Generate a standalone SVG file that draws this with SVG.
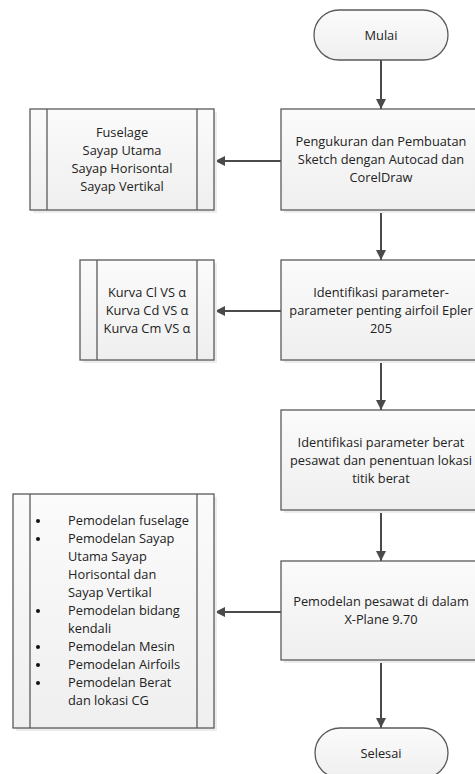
<svg xmlns="http://www.w3.org/2000/svg" width="475" height="774" viewBox="0 0 475 774">
<defs>
<linearGradient id="g" x1="0" y1="0" x2="0" y2="1"><stop offset="0" stop-color="#fbfbfb"/><stop offset="1" stop-color="#efefef"/></linearGradient>
<marker id="ah" markerWidth="10" markerHeight="10" viewBox="0 0 10 10" refX="10" refY="5" orient="auto" markerUnits="userSpaceOnUse"><path d="M0,0 L10,5 L0,10 Z" fill="#4a4a4a"/></marker>
</defs>
<style>
.box{fill:url(#g);stroke:#5a5a5a;stroke-width:1.3}
.sh{fill:#ececec}
.ln{stroke:#5a5a5a;stroke-width:1.3;fill:none}
.c{stroke:#4a4a4a;stroke-width:2;fill:none;marker-end:url(#ah)}
text{font-family:"Open Sans","Liberation Sans",sans-serif;font-size:12.8px;fill:#222}
.m{text-anchor:middle}
</style>
<rect width="475" height="774" fill="#fff"/>
<g id="connectors">
<line class="c" x1="381" y1="60" x2="381" y2="109"/>
<line class="c" x1="281" y1="161" x2="215" y2="161"/>
<line class="c" x1="381" y1="210" x2="381" y2="260"/>
<line class="c" x1="281" y1="311" x2="215" y2="311"/>
<line class="c" x1="381" y1="360" x2="381" y2="410"/>
<line class="c" x1="381" y1="510" x2="381" y2="561"/>
<line class="c" x1="281" y1="612" x2="215" y2="612"/>
<line class="c" x1="381" y1="660" x2="381" y2="728"/>
</g>
<g id="start">
<rect class="box" x="314" y="10" width="134" height="50" rx="25"/>
<text class="m" x="381" y="40">Mulai</text>
</g>
<g id="step1">
<rect class="sh" x="284" y="112" width="200" height="101"/>
<rect class="box" x="281" y="109" width="200" height="101"/>
<text class="m" x="381" y="146">Pengukuran dan Pembuatan</text>
<text class="m" x="381" y="164">Sketch dengan Autocad dan</text>
<text class="m" x="381" y="182">CorelDraw</text>
</g>
<g id="sub1">
<rect class="sh" x="33" y="112" width="184" height="101"/>
<rect class="box" x="30" y="109" width="184" height="101"/>
<line class="ln" x1="47" y1="109" x2="47" y2="210"/>
<line class="ln" x1="197" y1="109" x2="197" y2="210"/>
<text class="m" x="122" y="137">Fuselage</text>
<text class="m" x="122" y="155">Sayap Utama</text>
<text class="m" x="122" y="173">Sayap Horisontal</text>
<text class="m" x="122" y="191">Sayap Vertikal</text>
</g>
<g id="step2">
<rect class="sh" x="284" y="263" width="200" height="100"/>
<rect class="box" x="281" y="260" width="200" height="100"/>
<text class="m" x="381" y="297">Identifikasi parameter-</text>
<text class="m" x="381" y="315">parameter penting airfoil Epler</text>
<text class="m" x="381" y="333">205</text>
</g>
<g id="sub2">
<rect class="sh" x="83" y="263" width="134" height="100"/>
<rect class="box" x="80" y="260" width="134" height="100"/>
<line class="ln" x1="97" y1="260" x2="97" y2="360"/>
<line class="ln" x1="197" y1="260" x2="197" y2="360"/>
<text class="m" x="147" y="297">Kurva Cl VS α</text>
<text class="m" x="147" y="315">Kurva Cd VS α</text>
<text class="m" x="147" y="333">Kurva Cm VS α</text>
</g>
<g id="step3">
<rect class="sh" x="284" y="413" width="200" height="100"/>
<rect class="box" x="281" y="410" width="200" height="100"/>
<text class="m" x="381" y="447">Identifikasi parameter berat</text>
<text class="m" x="381" y="465">pesawat dan penentuan lokasi</text>
<text class="m" x="381" y="483">titik berat</text>
</g>
<g id="step4">
<rect class="sh" x="284" y="564" width="200" height="99"/>
<rect class="box" x="281" y="561" width="200" height="99"/>
<text class="m" x="381" y="606">Pemodelan pesawat di dalam</text>
<text class="m" x="381" y="624">X-Plane 9.70</text>
</g>
<g id="sub3">
<rect class="sh" x="16" y="497" width="201" height="234"/>
<rect class="box" x="13" y="494" width="201" height="234"/>
<line class="ln" x1="30" y1="494" x2="30" y2="728"/>
<line class="ln" x1="197" y1="494" x2="197" y2="728"/>
<g fill="#111">
<circle cx="38" cy="521" r="2"/>
<circle cx="38" cy="539" r="2"/>
<circle cx="38" cy="611" r="2"/>
<circle cx="38" cy="647" r="2"/>
<circle cx="38" cy="665" r="2"/>
<circle cx="38" cy="683" r="2"/>
</g>
<text x="68" y="525">Pemodelan fuselage</text>
<text x="68" y="543">Pemodelan Sayap</text>
<text x="68" y="561">Utama Sayap</text>
<text x="68" y="579">Horisontal dan</text>
<text x="68" y="597">Sayap Vertikal</text>
<text x="68" y="615">Pemodelan bidang</text>
<text x="68" y="633">kendali</text>
<text x="68" y="651">Pemodelan Mesin</text>
<text x="68" y="669">Pemodelan Airfoils</text>
<text x="68" y="687">Pemodelan Berat</text>
<text x="68" y="705">dan lokasi CG</text>
</g>
<g id="end">
<rect class="box" x="315" y="728" width="133" height="50" rx="25"/>
<text class="m" x="381" y="758">Selesai</text>
</g>
</svg>
